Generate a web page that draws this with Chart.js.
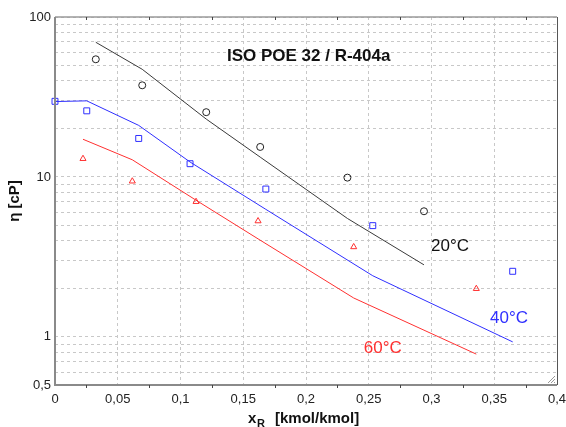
<!DOCTYPE html>
<html>
<head>
<meta charset="UTF-8">
<title>Viskosität ISO POE 32 / R-404a</title>
<script src="https://cdn.jsdelivr.net/npm/chart.js"></script>
<style>
  html, body { margin: 0; padding: 0; background: #fff; }
  #wrap { width: 566px; height: 427px; }
</style>
</head>
<body>
<div id="wrap"><canvas id="visko"></canvas></div>
<script>
// 20 °C
const x20 = [0.0325, 0.0695, 0.1205, 0.1635, 0.233, 0.294];
const eta20Mess = [54.4, 37.4, 25.4, 15.4, 9.9, 6.1];
const eta20Calc = [69.5, 47.1, 23.0, 13.3, 5.5, 2.82];
// 40 °C
const x40 = [0.0, 0.0253, 0.0667, 0.1076, 0.168, 0.2532, 0.3647];
const eta40Mess = [29.7, 25.9, 17.4, 12.1, 8.4, 4.96, 2.57];
const eta40Calc = [29.6, 29.9, 21.0, 12.4, 6.27, 2.41, 0.93];
// 60 °C
const x60 = [0.0223, 0.0616, 0.1124, 0.1618, 0.238, 0.3357];
const eta60Mess = [13.0, 9.4, 7.0, 5.3, 3.65, 2.0];
const eta60Calc = [17.2, 12.8, 7.15, 4.1, 1.75, 0.78];

const yGrid = [0.5, 0.6, 0.7, 0.8, 0.9, 1, 2, 3, 4, 5, 6, 7, 8, 9, 10,
               20, 30, 40, 50, 60, 70, 80, 90, 100];
const yLabels = [0.5, 1, 10, 100];

const schwarz = '#3a3a3a', blau = '#2f2fff', rot = '#ff3030';

function pts(xs, ys) { return xs.map((x, i) => ({ x: x, y: ys[i] })); }
function komma(v) { return String(+v.toFixed(3)).replace('.', ','); }

const beschriftung = {
  id: 'beschriftung',
  afterDraw(chart) {
    const c = chart.ctx, a = chart.chartArea;
    const xs = chart.scales.x, ys = chart.scales.y;
    c.save();
    // Rahmen
    c.strokeStyle = '#9a9a9a'; c.lineWidth = 1.5;
    c.beginPath(); c.moveTo(a.left, a.top); c.lineTo(a.right, a.top); c.stroke();
    c.strokeStyle = '#555'; c.lineWidth = 1;
    c.beginPath(); c.moveTo(a.right + 0.5, a.top); c.lineTo(a.right + 0.5, a.bottom); c.stroke();
    c.strokeStyle = '#8a8a8a'; c.lineWidth = 2;
    c.beginPath(); c.moveTo(a.left, a.top); c.lineTo(a.left, a.bottom); c.lineTo(a.right, a.bottom); c.stroke();
    // kleine Striche bei 0,025
    c.strokeStyle = '#444'; c.lineWidth = 1;
    for (let v = 0.025; v < 0.4; v += 0.05) {
      const px = Math.round(xs.getPixelForValue(v)) + 0.5;
      c.beginPath(); c.moveTo(px, a.bottom); c.lineTo(px, a.bottom + 3); c.stroke();
      c.beginPath(); c.moveTo(px, a.top); c.lineTo(px, a.top + 3); c.stroke();
    }
    // Griff unten rechts
    c.strokeStyle = '#999';
    for (let k = 3; k <= 9; k += 3) {
      c.beginPath(); c.moveTo(a.right - k, a.bottom - 2); c.lineTo(a.right - 2, a.bottom - k); c.stroke();
    }
    // Texte im Diagramm
    c.textBaseline = 'middle';
    c.font = 'bold 17px "Liberation Sans", Arial, sans-serif';
    c.fillStyle = '#111';
    c.fillText('ISO POE 32 / R-404a', xs.getPixelForValue(0.137), ys.getPixelForValue(57));
    c.font = '17px "Liberation Sans", Arial, sans-serif';
    c.fillStyle = '#111';
    c.fillText('20°C', xs.getPixelForValue(0.2996), ys.getPixelForValue(3.7));
    c.fillStyle = blau;
    c.fillText('40°C', xs.getPixelForValue(0.3466), ys.getPixelForValue(1.31));
    c.fillStyle = rot;
    c.fillText('60°C', xs.getPixelForValue(0.246), ys.getPixelForValue(0.854));
    // Achsentitel
    c.fillStyle = '#111';
    c.font = 'bold 15px "Liberation Sans", Arial, sans-serif';
    c.textBaseline = 'alphabetic';
    c.fillText('x', 248, 423);
    c.font = 'bold 11px "Liberation Sans", Arial, sans-serif';
    c.fillText('R', 257, 427);
    c.font = 'bold 15px "Liberation Sans", Arial, sans-serif';
    c.fillText('[kmol/kmol]', 275, 423);
    c.translate(19, 201);
    c.rotate(-Math.PI / 2);
    c.textAlign = 'center';
    c.fillText('\u03b7 [cP]', 0, 0);
    c.restore();
  }
};

new Chart(document.getElementById('visko'), {
  type: 'scatter',
  data: {
    datasets: [
      { data: pts(x20, eta20Calc), showLine: true, borderColor: schwarz, borderWidth: 1, pointRadius: 0, tension: 0 },
      { data: pts(x40, eta40Calc), showLine: true, borderColor: blau, borderWidth: 1, pointRadius: 0, tension: 0 },
      { data: pts(x60, eta60Calc), showLine: true, borderColor: rot, borderWidth: 1, pointRadius: 0, tension: 0 },
      { data: pts(x20, eta20Mess), pointStyle: 'circle', pointRadius: 3.5, borderColor: '#222', borderWidth: 1, backgroundColor: 'rgba(0,0,0,0)' },
      { data: pts(x40, eta40Mess), pointStyle: 'rect', pointRadius: 4.2, borderColor: blau, borderWidth: 1, backgroundColor: 'rgba(0,0,0,0)' },
      { data: pts(x60, eta60Mess), pointStyle: 'triangle', pointRadius: 3.5, borderColor: rot, borderWidth: 1, backgroundColor: 'rgba(0,0,0,0)' }
    ]
  },
  options: {
    responsive: true,
    maintainAspectRatio: false,
    animation: false,
    clip: false,
    layout: { padding: { top: 17, right: 9, left: 0, bottom: 0 } },
    plugins: { legend: { display: false }, tooltip: { enabled: false } },
    scales: {
      x: {
        type: 'linear', min: 0, max: 0.4,
        afterFit(s) { s.height = 42; s.paddingLeft = 0; s.paddingRight = 0; },
        border: { display: false, dash: [3, 3] },
        grid: { color: '#c8c8c8', drawTicks: false },
        ticks: {
          stepSize: 0.05, padding: 7, color: '#222',
          font: { family: '"Liberation Sans", Arial, sans-serif', size: 13 },
          callback: v => komma(v)
        }
      },
      y: {
        type: 'logarithmic', min: 0.5, max: 100,
        afterFit(s) { s.width = 55; s.paddingTop = 0; s.paddingBottom = 0; },
        afterBuildTicks(s) { s.ticks = yGrid.map(v => ({ value: v })); },
        border: { display: false, dash: [3, 3] },
        grid: { color: '#c8c8c8', drawTicks: false },
        ticks: {
          padding: 4, color: '#222', autoSkip: false,
          font: { family: '"Liberation Sans", Arial, sans-serif', size: 13 },
          callback: v => yLabels.includes(v) ? komma(v) : ''
        }
      }
    }
  },
  plugins: [beschriftung]
});
</script>
</body>
</html>
